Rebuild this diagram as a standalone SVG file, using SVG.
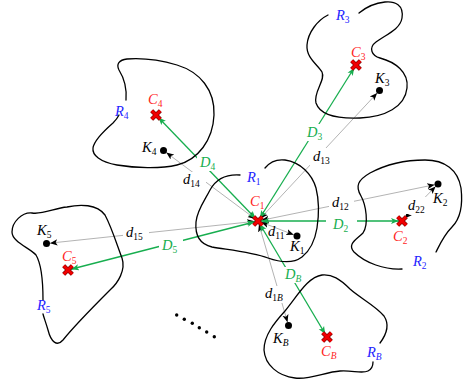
<svg xmlns="http://www.w3.org/2000/svg" width="469" height="383" viewBox="0 0 469 383">
<style>
.blob{fill:none;stroke:#000;stroke-width:1.3;stroke-linecap:round}
.g{stroke:#17ae4f;stroke-width:1.3;fill:none}
.k{stroke:#808080;stroke-width:0.6;fill:none}
.gm{marker-start:url(#ag);marker-end:url(#ag)}
.km{marker-start:url(#ak);marker-end:url(#ak)}
text{font-family:"Liberation Serif","Times New Roman",serif;font-style:italic;font-size:14.5px}
.s{font-size:9.5px;font-style:normal}
.si{font-size:9.5px;font-style:italic}
.red{fill:#ff2424}
.blue{fill:#2424ff}
.grn{fill:#17ae4f}
.blk{fill:#000}
.bg{fill:#fff}
</style>
<defs>
<marker id="ak" markerUnits="userSpaceOnUse" markerWidth="12" markerHeight="8" viewBox="0 0 12 8" refX="11" refY="4" orient="auto-start-reverse"><path d="M0,0.9 L7.5,4 L0,7.1 L1.8,4 Z" fill="#000"/></marker>
<marker id="ag" markerUnits="userSpaceOnUse" markerWidth="12" markerHeight="8" viewBox="0 0 12 8" refX="11" refY="4" orient="auto-start-reverse"><path d="M0,0.9 L7.5,4 L0,7.1 L1.8,4 Z" fill="#17ae4f"/></marker>
<g id="xmark"><path d="M-4.3,-4.3 L4.3,4.3 M-4.3,4.3 L4.3,-4.3" stroke="#700" stroke-width="4.2"/><path d="M-4.3,-4.3 L4.3,4.3 M-4.3,4.3 L4.3,-4.3" stroke="#f00000" stroke-width="3"/></g>
</defs>
<rect width="469" height="383" fill="#fff"/>

<g id="connectors">
<line class="k km" x1="258" y1="221" x2="297" y2="236"/>
<line class="k km" x1="258" y1="221" x2="438" y2="184"/>
<line class="k km" x1="258" y1="221" x2="379.5" y2="90.5"/>
<line class="k km" x1="258" y1="221" x2="163.5" y2="150.5"/>
<line class="k km" x1="258" y1="221" x2="46.5" y2="243.5"/>
<line class="k km" x1="258" y1="221" x2="288.5" y2="325.5"/>
<line class="k km" x1="402" y1="221" x2="438" y2="184"/>
<line class="g gm" x1="258" y1="221" x2="402" y2="221"/>
<line class="g gm" x1="258" y1="221" x2="356" y2="65"/>
<line class="g gm" x1="258" y1="221" x2="156" y2="115"/>
<line class="g gm" x1="258" y1="221" x2="68" y2="270"/>
<line class="g gm" x1="258" y1="221" x2="327" y2="337"/>
<rect class="bg" x="326" y="214" width="31" height="18"/>
<rect class="bg" x="304" y="124" width="23" height="17"/>
<rect class="bg" x="197" y="155" width="23" height="16"/>
<rect class="bg" x="159" y="238" width="24" height="16"/>
<rect class="bg" x="282" y="267" width="25" height="16"/>
<rect class="bg" x="329" y="194" width="25" height="18"/>
<rect class="bg" x="310" y="148" width="25" height="18"/>
<rect class="bg" x="180" y="172" width="26" height="17"/>
<rect class="bg" x="123" y="225" width="26" height="17"/>
<rect class="bg" x="262" y="286" width="26" height="17"/>
<rect class="bg" x="405" y="197" width="26" height="17"/>
<text class="grn" x="333" y="229">D<tspan class="s" dy="3">2</tspan></text>
<text class="grn" x="307" y="137">D<tspan class="s" dy="3">3</tspan></text>
<text class="grn" x="200" y="167">D<tspan class="s" dy="3">4</tspan></text>
<text class="grn" x="162" y="250">D<tspan class="s" dy="3">5</tspan></text>
<text class="grn" x="285" y="279">D<tspan class="si" dy="3">B</tspan></text>
<text class="blk" x="268" y="236">d<tspan class="s" dy="3">11</tspan></text>
<text class="blk" x="332" y="207">d<tspan class="s" dy="3">12</tspan></text>
<text class="blk" x="313" y="161">d<tspan class="s" dy="3">13</tspan></text>
<text class="blk" x="183" y="184">d<tspan class="s" dy="3">14</tspan></text>
<text class="blk" x="126" y="237">d<tspan class="s" dy="3">15</tspan></text>
<text class="blk" x="265" y="298">d<tspan class="s" dy="3">1</tspan><tspan class="si">B</tspan></text>
<text class="blk" x="408" y="210">d<tspan class="s" dy="3">22</tspan></text>
</g>

<g id="R1">
<path class="blob" d="M 240,175 C 226,174 216,179 210,190 C 205,200 197,210 196,222 C 195,234 199,244 212,247 C 230,250 252,252 268,258 C 282,263 294,263 302,257 C 311,250 315,240 317,228 C 319,215 319,200 316,188 C 312,174 300,162 285,160 C 276,159 269,163 265,168"/>
<text class="blue" x="247" y="182">R<tspan class="s" dy="3">1</tspan></text>
<text class="red" x="250" y="206">C<tspan class="s" dy="3">1</tspan></text>
<text class="blk" x="290" y="251">K<tspan class="s" dy="3">1</tspan></text>
<circle cx="297" cy="236" r="3.5"/>
<use href="#xmark" x="258" y="221"/>
</g>

<g id="R2">
<path class="blob" d="M 402,269 C 385,270 365,263 354,252 C 347,244 356,240 363,233 C 369,224 366,205 361,196 C 355,186 358,180 370,173 C 385,165 405,160 425,160 C 445,160 458,170 461,188 C 463,205 461,218 452,227 C 444,235 440,244 436,252"/>
<text class="blue" x="413" y="266">R<tspan class="s" dy="3">2</tspan></text>
<text class="red" x="393" y="241">C<tspan class="s" dy="3">2</tspan></text>
<text class="blk" x="433" y="203">K<tspan class="s" dy="3">2</tspan></text>
<circle cx="438" cy="184" r="3.5"/>
<use href="#xmark" x="402" y="221"/>
</g>

<g id="R3">
<path class="blob" d="M 328,15 C 318,20 308,32 307,45 C 306,58 318,65 322,72 C 326,80 313,92 316,103 C 320,115 335,119 360,118 C 385,117 405,107 407,88 C 409,72 395,62 380,58 C 372,56 368,48 376,42 C 385,35 400,30 402,18 C 404,5 395,1 385,2 C 375,3 365,8 359,13"/>
<text class="blue" x="336" y="20">R<tspan class="s" dy="3">3</tspan></text>
<text class="red" x="351" y="57">C<tspan class="s" dy="3">3</tspan></text>
<text class="blk" x="375" y="83">K<tspan class="s" dy="3">3</tspan></text>
<circle cx="379.5" cy="90.5" r="3.5"/>
<use href="#xmark" x="356" y="65"/>
</g>

<g id="R4">
<path class="blob" d="M 126,100 C 127,88 124,78 119,70 C 116,64 119,60 127,59 C 140,58 160,60 177,65 C 200,72 215,90 214,115 C 213,140 198,160 177,165 C 160,169 135,168 117,165 C 100,162 92,155 93,148 C 94,140 105,130 113,123 C 116,120 118,117 119,115"/>
<text class="blue" x="115" y="116">R<tspan class="s" dy="3">4</tspan></text>
<text class="red" x="148" y="104">C<tspan class="s" dy="3">4</tspan></text>
<text class="blk" x="142" y="152">K<tspan class="s" dy="3">4</tspan></text>
<circle cx="163.5" cy="150.5" r="3.5"/>
<use href="#xmark" x="156" y="115"/>
</g>

<g id="R5">
<path class="blob" d="M 43,300 C 43,285 42,265 36,255 C 30,248 12,242 12,232 C 12,222 22,212 32,213 C 42,215 55,208 67,207 C 80,204 97,204 105,215 C 112,228 118,248 122,258 C 126,270 118,283 110,290 C 95,305 75,325 63,340 C 57,347 51,342 48,330 C 46,323 44,318 43,314"/>
<text class="blue" x="37" y="310">R<tspan class="s" dy="3">5</tspan></text>
<text class="red" x="62" y="261">C<tspan class="s" dy="3">5</tspan></text>
<text class="blk" x="37" y="235">K<tspan class="s" dy="3">5</tspan></text>
<circle cx="46.5" cy="243.5" r="3.5"/>
<use href="#xmark" x="68" y="270"/>
</g>

<g id="RB">
<path class="blob" d="M 380,343 C 386,335 390,325 384,316 C 376,306 360,298 350,289 C 340,279 332,274 322,275 C 308,277 298,295 285,311 C 275,322 264,335 264,350 C 265,365 278,376 295,378 C 310,380 325,372 340,371 C 352,370 362,374 368,371 C 372,369 373,366 373,362"/>
<text class="blue" x="367" y="357">R<tspan class="si" dy="3">B</tspan></text>
<text class="red" x="321" y="356">C<tspan class="si" dy="3">B</tspan></text>
<text class="blk" x="273" y="343">K<tspan class="si" dy="3">B</tspan></text>
<circle cx="288.5" cy="325.5" r="3.5"/>
<use href="#xmark" x="327" y="337"/>
</g>

<g id="ellipsis">
<circle cx="176.7" cy="315" r="1.7"/>
<circle cx="184.3" cy="319.3" r="1.7"/>
<circle cx="192.3" cy="323.3" r="1.7"/>
<circle cx="199.3" cy="327.7" r="1.7"/>
<circle cx="206.7" cy="332" r="1.7"/>
<circle cx="214.3" cy="336.7" r="1.7"/>
</g>
</svg>
